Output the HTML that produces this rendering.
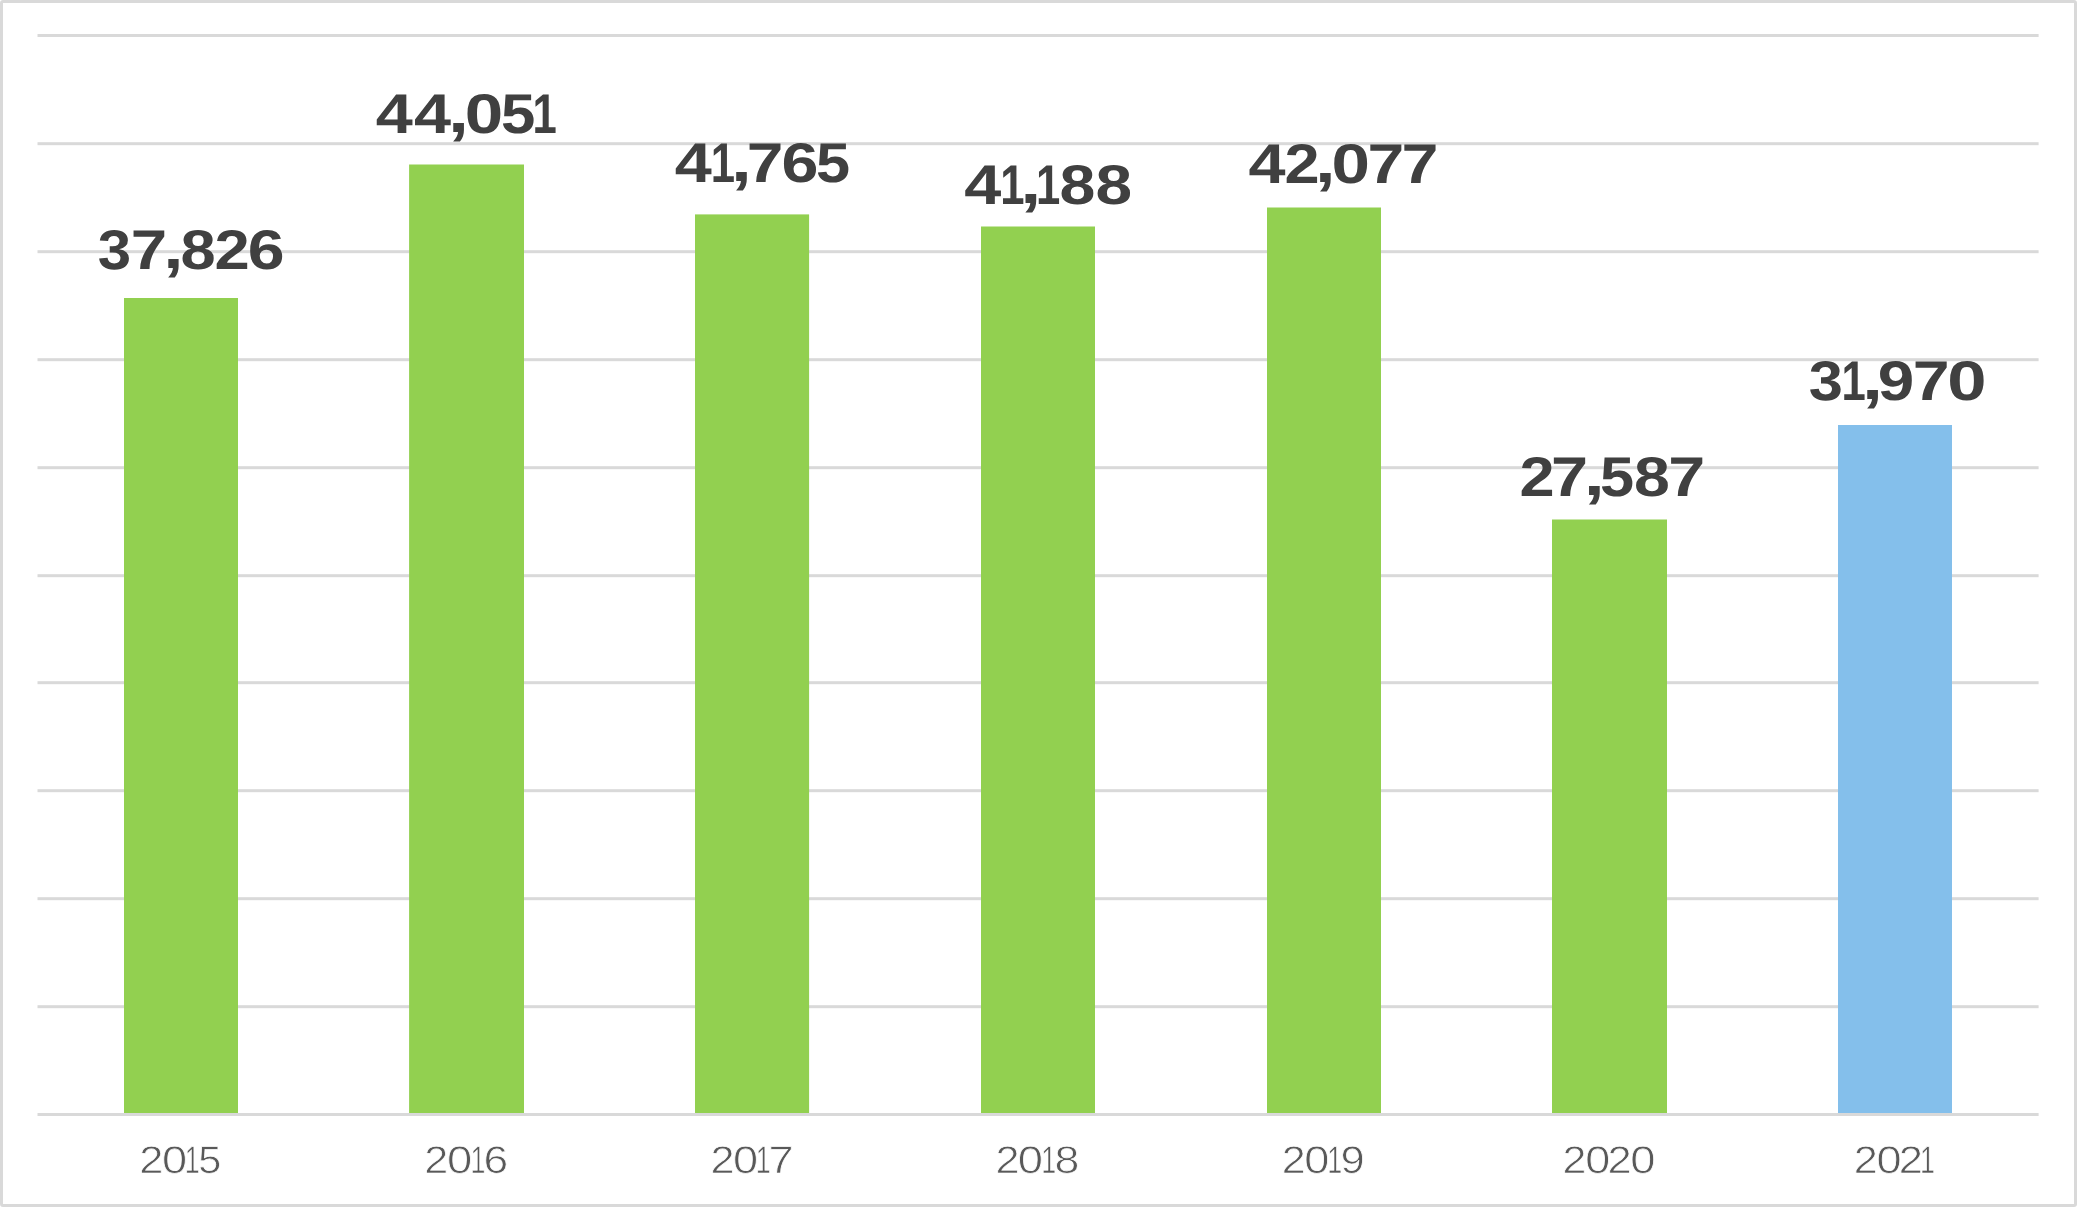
<!DOCTYPE html>
<html lang="en"><head><meta charset="utf-8"><title>Chart 2015-2021</title>
<style>
html,body{margin:0;padding:0;background:#fff;}
body{width:2077px;height:1207px;overflow:hidden;position:relative;}
svg{display:block;position:absolute;left:0;top:0;will-change:transform;}
text{text-rendering:geometricPrecision;}
.v{font-family:"Liberation Sans",sans-serif;font-weight:700;font-size:56.0px;fill:#404040;}
.y{font-family:"Liberation Sans",sans-serif;font-weight:400;font-size:38.4px;fill:#595959;stroke:#fff;stroke-width:0.7px;paint-order:fill stroke;}
</style></head><body>
<svg width="2077" height="1207" viewBox="0 0 2077 1207">
<rect x="1.5" y="1.5" width="2074" height="1204" rx="1.5" ry="1.5" fill="#fff" stroke="#d9d9d9" stroke-width="3"/>
<g fill="#d9d9d9">
<rect x="37.5" y="34" width="2001.1" height="3"/>
<rect x="37.5" y="142.2" width="2001.1" height="3"/>
<rect x="37.5" y="250.2" width="2001.1" height="3"/>
<rect x="37.5" y="358.2" width="2001.1" height="3"/>
<rect x="37.5" y="466.2" width="2001.1" height="3"/>
<rect x="37.5" y="574.2" width="2001.1" height="3"/>
<rect x="37.5" y="681.2" width="2001.1" height="3"/>
<rect x="37.5" y="789.2" width="2001.1" height="3"/>
<rect x="37.5" y="897.2" width="2001.1" height="3"/>
<rect x="37.5" y="1005.2" width="2001.1" height="3"/>
</g>
<g>
<rect x="124" y="298.0" width="114.0" height="816.0" fill="#92d050"/>
<rect x="409.1" y="164.5" width="114.9" height="949.5" fill="#92d050"/>
<rect x="695" y="214.4" width="114.1" height="899.6" fill="#92d050"/>
<rect x="981" y="226.5" width="114.0" height="887.5" fill="#92d050"/>
<rect x="1267" y="207.5" width="114.0" height="906.5" fill="#92d050"/>
<rect x="1552" y="519.5" width="115.0" height="594.5" fill="#92d050"/>
<rect x="1838" y="425.0" width="114.0" height="689.0" fill="#84bfeb"/>
</g>
<rect x="37.5" y="1113" width="2001.1" height="3" fill="#d9d9d9"/>
<g style="filter:grayscale(1)">
<text class="v" y="269"><tspan x="97.72" textLength="33.34" lengthAdjust="spacingAndGlyphs">3</tspan><tspan x="130.69" textLength="36.39" lengthAdjust="spacingAndGlyphs">7</tspan><tspan x="163.17" y="268" font-size="61.0" textLength="20.20" lengthAdjust="spacingAndGlyphs">,</tspan><tspan x="180.49" y="269" textLength="35.15" lengthAdjust="spacingAndGlyphs">8</tspan><tspan x="214.50" textLength="35.23" lengthAdjust="spacingAndGlyphs">2</tspan><tspan x="247.88" textLength="36.82" lengthAdjust="spacingAndGlyphs">6</tspan></text>
<text class="v" y="133"><tspan x="375.89" textLength="37.07" lengthAdjust="spacingAndGlyphs">4</tspan><tspan x="414.09" textLength="37.07" lengthAdjust="spacingAndGlyphs">4</tspan><tspan x="448.08" y="132" font-size="61.0" textLength="20.97" lengthAdjust="spacingAndGlyphs">,</tspan><tspan x="464.76" y="133" textLength="38.47" lengthAdjust="spacingAndGlyphs">0</tspan><tspan x="501.10" textLength="34.32" lengthAdjust="spacingAndGlyphs">5</tspan><tspan x="532.59" textLength="24.29" lengthAdjust="spacingAndGlyphs">1</tspan></text>
<text class="v" y="182"><tspan x="674.69" textLength="37.07" lengthAdjust="spacingAndGlyphs">4</tspan><tspan x="710.79" textLength="24.29" lengthAdjust="spacingAndGlyphs">1</tspan><tspan x="730.92" y="181" font-size="61.0" textLength="20.78" lengthAdjust="spacingAndGlyphs">,</tspan><tspan x="746.77" y="182" textLength="36.62" lengthAdjust="spacingAndGlyphs">7</tspan><tspan x="781.57" textLength="36.93" lengthAdjust="spacingAndGlyphs">6</tspan><tspan x="816.01" textLength="34.09" lengthAdjust="spacingAndGlyphs">5</tspan></text>
<text class="v" y="204"><tspan x="964.19" textLength="37.07" lengthAdjust="spacingAndGlyphs">4</tspan><tspan x="1000.29" textLength="24.29" lengthAdjust="spacingAndGlyphs">1</tspan><tspan x="1020.38" y="203" font-size="61.0" textLength="20.97" lengthAdjust="spacingAndGlyphs">,</tspan><tspan x="1036.04" y="204" textLength="24.29" lengthAdjust="spacingAndGlyphs">1</tspan><tspan x="1059.56" textLength="35.83" lengthAdjust="spacingAndGlyphs">8</tspan><tspan x="1095.51" textLength="36.61" lengthAdjust="spacingAndGlyphs">8</tspan></text>
<text class="v" y="183"><tspan x="1248.59" textLength="37.07" lengthAdjust="spacingAndGlyphs">4</tspan><tspan x="1284.51" textLength="35.12" lengthAdjust="spacingAndGlyphs">2</tspan><tspan x="1314.97" y="182" font-size="61.0" textLength="20.58" lengthAdjust="spacingAndGlyphs">,</tspan><tspan x="1331.56" y="183" textLength="38.47" lengthAdjust="spacingAndGlyphs">0</tspan><tspan x="1367.56" textLength="36.74" lengthAdjust="spacingAndGlyphs">7</tspan><tspan x="1401.44" textLength="36.98" lengthAdjust="spacingAndGlyphs">7</tspan></text>
<text class="v" y="496"><tspan x="1519.51" textLength="35.12" lengthAdjust="spacingAndGlyphs">2</tspan><tspan x="1551.13" textLength="37.10" lengthAdjust="spacingAndGlyphs">7</tspan><tspan x="1583.68" y="495" font-size="61.0" textLength="20.97" lengthAdjust="spacingAndGlyphs">,</tspan><tspan x="1600.01" y="496" textLength="34.09" lengthAdjust="spacingAndGlyphs">5</tspan><tspan x="1634.06" textLength="35.83" lengthAdjust="spacingAndGlyphs">8</tspan><tspan x="1668.24" textLength="36.98" lengthAdjust="spacingAndGlyphs">7</tspan></text>
<text class="v" y="400"><tspan x="1808.69" textLength="34.13" lengthAdjust="spacingAndGlyphs">3</tspan><tspan x="1841.52" textLength="24.29" lengthAdjust="spacingAndGlyphs">1</tspan><tspan x="1861.98" y="399" font-size="61.0" textLength="20.97" lengthAdjust="spacingAndGlyphs">,</tspan><tspan x="1877.72" y="400" textLength="36.51" lengthAdjust="spacingAndGlyphs">9</tspan><tspan x="1912.65" textLength="36.86" lengthAdjust="spacingAndGlyphs">7</tspan><tspan x="1947.21" textLength="39.29" lengthAdjust="spacingAndGlyphs">0</tspan></text>
</g>
<g style="filter:grayscale(1)">
<text class="y" y="1173"><tspan x="139.36" textLength="24.17" lengthAdjust="spacingAndGlyphs">2</tspan><tspan x="162.08" textLength="25.13" lengthAdjust="spacingAndGlyphs">0</tspan><tspan x="184.81" textLength="14.95" lengthAdjust="spacingAndGlyphs">1</tspan><tspan x="198.19" textLength="23.11" lengthAdjust="spacingAndGlyphs">5</tspan></text>
<text class="y" y="1173"><tspan x="424.38" textLength="24.05" lengthAdjust="spacingAndGlyphs">2</tspan><tspan x="446.98" textLength="25.25" lengthAdjust="spacingAndGlyphs">0</tspan><tspan x="470.61" textLength="14.95" lengthAdjust="spacingAndGlyphs">1</tspan><tspan x="483.59" textLength="24.71" lengthAdjust="spacingAndGlyphs">6</tspan></text>
<text class="y" y="1173"><tspan x="710.48" textLength="24.05" lengthAdjust="spacingAndGlyphs">2</tspan><tspan x="733.08" textLength="25.13" lengthAdjust="spacingAndGlyphs">0</tspan><tspan x="755.81" textLength="14.95" lengthAdjust="spacingAndGlyphs">1</tspan><tspan x="768.54" textLength="25.08" lengthAdjust="spacingAndGlyphs">7</tspan></text>
<text class="y" y="1173"><tspan x="995.48" textLength="24.05" lengthAdjust="spacingAndGlyphs">2</tspan><tspan x="1017.88" textLength="25.25" lengthAdjust="spacingAndGlyphs">0</tspan><tspan x="1041.31" textLength="14.95" lengthAdjust="spacingAndGlyphs">1</tspan><tspan x="1054.61" textLength="24.89" lengthAdjust="spacingAndGlyphs">8</tspan></text>
<text class="y" y="1173"><tspan x="1281.69" textLength="23.93" lengthAdjust="spacingAndGlyphs">2</tspan><tspan x="1304.28" textLength="25.13" lengthAdjust="spacingAndGlyphs">0</tspan><tspan x="1327.21" textLength="14.95" lengthAdjust="spacingAndGlyphs">1</tspan><tspan x="1340.41" textLength="24.20" lengthAdjust="spacingAndGlyphs">9</tspan></text>
<text class="y" y="1173"><tspan x="1562.59" textLength="23.93" lengthAdjust="spacingAndGlyphs">2</tspan><tspan x="1585.19" textLength="25.01" lengthAdjust="spacingAndGlyphs">0</tspan><tspan x="1607.56" textLength="24.17" lengthAdjust="spacingAndGlyphs">2</tspan><tspan x="1630.18" textLength="25.25" lengthAdjust="spacingAndGlyphs">0</tspan></text>
<text class="y" y="1173"><tspan x="1853.88" textLength="24.05" lengthAdjust="spacingAndGlyphs">2</tspan><tspan x="1876.58" textLength="25.13" lengthAdjust="spacingAndGlyphs">0</tspan><tspan x="1898.86" textLength="24.17" lengthAdjust="spacingAndGlyphs">2</tspan><tspan x="1920.11" textLength="14.95" lengthAdjust="spacingAndGlyphs">1</tspan></text>
</g>
</svg></body></html>
